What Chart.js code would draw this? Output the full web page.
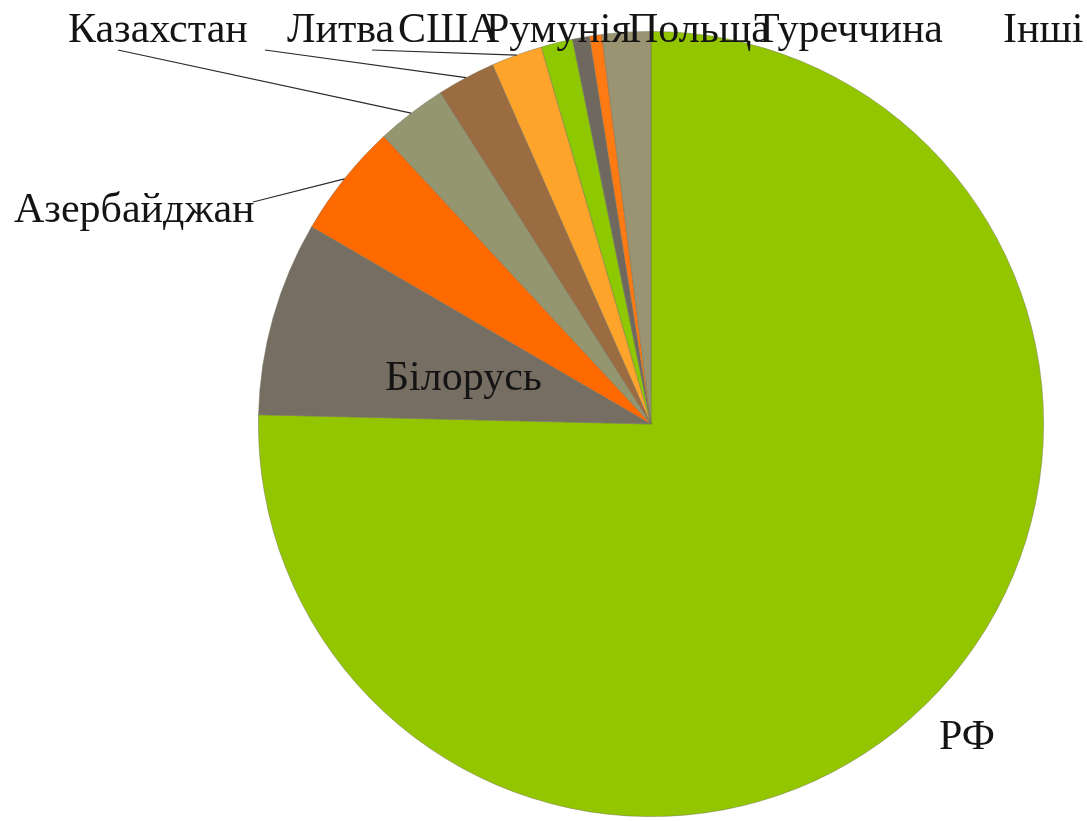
<!DOCTYPE html>
<html>
<head>
<meta charset="utf-8">
<script src="https://cdn.jsdelivr.net/npm/chart.js@4.4.1/dist/chart.umd.min.js"></script>
<style>
html,body{margin:0;padding:0;background:#fff;}
#wrap{width:1087px;height:821px;position:relative;}
</style>
</head>
<body>
<div id="wrap"><canvas id="c" width="1087" height="821"></canvas></div>
<script>
const categories = ["РФ","Білорусь","Азербайджан","Казахстан","Литва","США","Румунія","Польща","Туреччина","Інші"];
const shares = [75.3, 8.0, 4.7, 2.9, 2.4, 2.1, 1.3, 0.7, 0.5, 2.0];
const sliceColors = ["#94c600","#766e62","#ff6a00","#949670","#9b6b42","#ffa42b","#8ec800","#6e685f","#ff7a12","#9a9472"];

// label layout (text position and optional leader line start)
const labelLayout = [
  {x:939, y:749, align:"left"},
  {x:385, y:390, align:"left"},
  {x:14,  y:222, align:"left", line:[253,202]},
  {x:68,  y:42,  align:"left", line:[118,50]},
  {x:287, y:42,  align:"left", line:[265,50]},
  {x:398, y:42,  align:"left", line:[372,50]},
  {x:486, y:42,  align:"left"},
  {x:628, y:42,  align:"left"},
  {x:754, y:42,  align:"left"},
  {x:1003,y:42,  align:"left"}
];

const labelPlugin = {
  id:'labelPlugin',
  afterDraw(chart){
    const ctx = chart.ctx;
    const meta = chart.getDatasetMeta(0);
    ctx.save();
    ctx.strokeStyle = '#2a2a2a';
    ctx.lineWidth = 1.2;
    meta.data.forEach((arc,i)=>{
      const L = labelLayout[i];
      if (L.line){
        const p = arc.getProps(['x','y','startAngle','endAngle','outerRadius'], true);
        const mid = (p.startAngle + p.endAngle)/2;
        const ex = p.x + Math.cos(mid)*p.outerRadius;
        const ey = p.y + Math.sin(mid)*p.outerRadius;
        ctx.beginPath();
        ctx.moveTo(L.line[0], L.line[1]);
        ctx.lineTo(ex, ey);
        ctx.stroke();
      }
    });
    ctx.fillStyle = '#141414';
    ctx.font = '42px "Liberation Serif", "DejaVu Serif", serif';
    ctx.textBaseline = 'alphabetic';
    categories.forEach((name,i)=>{
      const L = labelLayout[i];
      ctx.textAlign = L.align;
      ctx.fillText(name, L.x, L.y);
    });
    ctx.restore();
  }
};

new Chart(document.getElementById('c'), {
  type:'pie',
  data:{
    labels: categories,
    datasets:[{
      data: shares,
      backgroundColor: sliceColors,
      borderColor: 'rgba(110,110,90,0.55)',
      borderWidth: 0.8
    }]
  },
  options:{
    responsive:false,
    animation:false,
    rotation:0,
    layout:{padding:{left:258, right:43, top:31, bottom:4}},
    plugins:{legend:{display:false}, tooltip:{enabled:false}, title:{display:false}}
  },
  plugins:[labelPlugin]
});
</script>
</body>
</html>
